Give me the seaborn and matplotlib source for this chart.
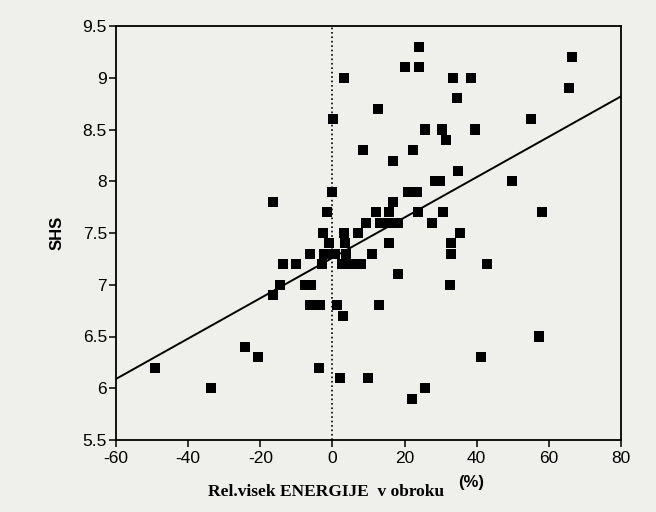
import numpy as np
import pandas as pd
import seaborn as sns
import matplotlib.pyplot as plt

# ---- data ----
energy = [3.1, 0.2, 8.4, 0.0, -16.5, -1.6, -2.7, 3.1, 7.0, 9.3,
          24.1, 20.1, 24.1, 33.4, 38.4, 34.5, 66.4, 65.5, 12.6, 55.1,
          25.6, 30.4, 39.6, 31.4, 22.4, 16.9, 34.9, 28.5, 29.8, 49.8,
          20.9, 23.5, 16.9, 12.1, 15.8, 23.8, 30.7, 58.1, 13.3, 15.5,
          18.1, 27.6, 35.4, 15.8, 33.0, 11.0, 33.0, 7.9, 42.9, 18.1,
          32.7, 13.0, 57.4, 41.2, 9.8, 25.6, 22.1, -1.0, 3.6, -6.1,
          -2.2, 0.6, 3.8, -13.8, -10.1, -2.9, 2.6, 5.2, -14.5, -7.5,
          -6.0, -16.5, -6.1, -3.4, 1.2, 2.9, -24.3, -20.5, -49.3, -3.7,
          2.2, -33.6]
shs = [9.0, 8.6, 8.3, 7.9, 7.8, 7.7, 7.5, 7.5, 7.5, 7.6,
       9.3, 9.1, 9.1, 9.0, 9.0, 8.8, 9.2, 8.9, 8.7, 8.6,
       8.5, 8.5, 8.5, 8.4, 8.3, 8.2, 8.1, 8.0, 8.0, 8.0,
       7.9, 7.9, 7.8, 7.7, 7.7, 7.7, 7.7, 7.7, 7.6, 7.6,
       7.6, 7.6, 7.5, 7.4, 7.4, 7.3, 7.3, 7.2, 7.2, 7.1,
       7.0, 6.8, 6.5, 6.3, 6.1, 6.0, 5.9, 7.4, 7.4, 7.3,
       7.3, 7.3, 7.3, 7.2, 7.2, 7.2, 7.2, 7.2, 7.0, 7.0,
       7.0, 6.9, 6.8, 6.8, 6.8, 6.7, 6.4, 6.3, 6.2, 6.2,
       6.1, 6.0]

line_intercept = 7.26
line_slope = 0.0195

x_ticks = [-60, -40, -20, 0, 20, 40, 60, 80]
x_tick_labels = ['-60', '-40', '-20', '0', '20', '40', '60', '80']
y_ticks = [5.5, 6.0, 6.5, 7.0, 7.5, 8.0, 8.5, 9.0, 9.5]
y_tick_labels = ['5.5', '6', '6.5', '7', '7.5', '8', '8.5', '9', '9.5']

x_label = 'Rel.visek ENERGIJE  v obroku'
unit_label = '(%)'
y_label = 'SHS'

df = pd.DataFrame({'energy': energy, 'shs': shs})

# ---- style ----
sns.set_theme(style='ticks')
plt.rcParams['font.family'] = ['Liberation Sans', 'DejaVu Sans']
bg = '#efefec'

fig = plt.figure(figsize=(6.56, 5.12), dpi=100, facecolor=bg)
W, H = 656, 512
ax = fig.add_axes([116 / W, 1 - 440 / H, (621 - 116) / W, (440 - 26) / H])
ax.set_facecolor(bg)

ax.axvline(0, color='black', linestyle=':', linewidth=1.2, zorder=1)

fit_x = np.array([x_ticks[0], x_ticks[-1]], dtype=float)
fit_y = line_intercept + line_slope * fit_x
sns.lineplot(x=fit_x, y=fit_y, color='black', linewidth=1.4, ax=ax, zorder=2)

sns.scatterplot(data=df, x='energy', y='shs', marker='s', s=52,
                color='black', edgecolor='none', linewidth=0, ax=ax, zorder=3)

ax.set_xlim(x_ticks[0], x_ticks[-1])
ax.set_ylim(y_ticks[0], y_ticks[-1])
ax.set_xticks(x_ticks)
ax.set_xticklabels(x_tick_labels)
ax.set_yticks(y_ticks)
ax.set_yticklabels(y_tick_labels)
ax.tick_params(axis='both', direction='out', length=5, width=1.1,
               color='black', labelcolor='black', labelsize=12.5)
ax.tick_params(axis='x', pad=3)
ax.tick_params(axis='y', pad=1.5)
for sp in ax.spines.values():
    sp.set_visible(True)
    sp.set_color('black')
    sp.set_linewidth(1.3)
ax.set_xlabel('')
ax.set_ylabel('')

fig.text(57 / W, 1 - 233 / H, y_label, rotation=90, ha='center', va='center',
         fontsize=12, fontweight='bold', color='black')
fig.text(326 / W, 1 - 492 / H, x_label, ha='center', va='center',
         fontsize=12.5, fontweight='bold', color='black',
         family=['Liberation Serif', 'DejaVu Serif'])
fig.text(471 / W, 1 - 483 / H, unit_label, ha='center', va='center',
         fontsize=12, fontweight='bold', color='black')

fig.savefig('out.png', dpi=100, facecolor=bg)
